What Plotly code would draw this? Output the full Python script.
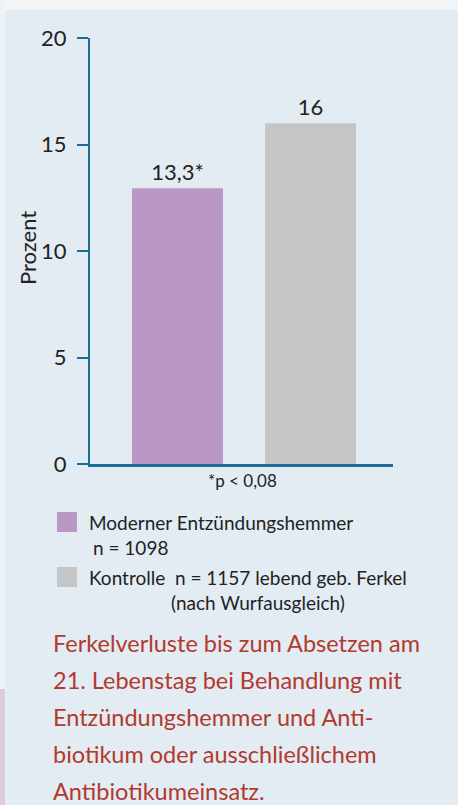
import plotly.graph_objects as go

# ---- data ----
categories = ["Moderner Entzündungshemmer", "Kontrolle"]
values = [12.95, 16.0]
value_labels = ["13,3*", "16"]
bar_colors = ["#bb97c5", "#c4c5c7"]
y_ticks = [0, 5, 10, 15, 20]
y_title = "Prozent"
p_note = "*p < 0,08"
legend_lines = [
    ("Moderner Entzündungshemmer", "n = 1098"),
    ("Kontrolle  n = 1157 lebend geb. Ferkel", "(nach Wurfausgleich)"),
]
caption_lines = [
    "Ferkelverluste bis zum Absetzen am",
    "21. Lebenstag bei Behandlung mit",
    "Entzündungshemmer und Anti-",
    "biotikum oder ausschließlichem",
    "Antibiotikumeinsatz.",
]

W, H = 458, 805
L, R, T, B = 90, 65, 38, 341
PW, PH = W - L - R, H - T - B
FONT = "Lato"
AXIS = "#1d6c98"
TXT = "#222222"
RED = "#b23a2d"
BG = "#e3ebf3"


def px(x):
    return (x - L) / PW


def py(y):
    return (H - B - y) / PH


fig = go.Figure()
fig.add_trace(go.Bar(
    x=[0, 1], y=values, width=0.684,
    marker=dict(color=bar_colors, line=dict(width=0)),
    text=value_labels, textposition="outside",
    textfont=dict(family=FONT, size=22, color=TXT),
    cliponaxis=False, hoverinfo="skip",
))

shapes = [
    # outer frame strips
    dict(type="rect", xref="paper", yref="paper", x0=px(0), x1=px(W), y0=py(10), y1=py(0),
         fillcolor="#f3f6f9", line=dict(width=0), layer="below"),
    dict(type="rect", xref="paper", yref="paper", x0=px(0), x1=px(5), y0=py(689), y1=py(0),
         fillcolor="#eef2f6", line=dict(width=0), layer="below"),
    dict(type="rect", xref="paper", yref="paper", x0=px(0), x1=px(5), y0=py(H), y1=py(689),
         fillcolor="#dccbe0", line=dict(width=0), layer="below"),
]

annotations = [
    dict(text=p_note, xref="paper", yref="paper", x=px(242), y=py(480),
         xanchor="center", yanchor="middle", showarrow=False,
         font=dict(family=FONT, size=17, color=TXT)),
    dict(text=y_title, xref="paper", yref="paper", x=px(27), y=py(248),
         xanchor="center", yanchor="middle", showarrow=False, textangle=-90,
         font=dict(family=FONT, size=22, color=TXT)),
]

leg_y = [522, 577]
for i, (l1, l2) in enumerate(legend_lines):
    yc = leg_y[i]
    shapes.append(dict(type="rect", xref="paper", yref="paper",
                       x0=px(57), x1=px(77), y0=py(yc + 10), y1=py(yc - 10),
                       fillcolor=bar_colors[i], line=dict(width=0)))
    annotations.append(dict(text=l1, xref="paper", yref="paper", x=px(87), y=py(yc),
                            xanchor="left", yanchor="middle", showarrow=False,
                            font=dict(family=FONT, size=19, color=TXT)))
    if i == 0:
        annotations.append(dict(text=l2, xref="paper", yref="paper", x=px(91), y=py(yc + 25),
                                xanchor="left", yanchor="middle", showarrow=False,
                                font=dict(family=FONT, size=19, color=TXT)))
    else:
        annotations.append(dict(text=l2, xref="paper", yref="paper", x=px(258), y=py(yc + 25),
                                xanchor="center", yanchor="middle", showarrow=False,
                                font=dict(family=FONT, size=19, color=TXT)))

for j, line in enumerate(caption_lines):
    annotations.append(dict(text=line, xref="paper", yref="paper", x=px(51), y=py(643 + 37 * j),
                            xanchor="left", yanchor="middle", showarrow=False,
                            font=dict(family=FONT, size=23.5, color=RED)))

fig.update_layout(
    width=W, height=H,
    margin=dict(l=L, r=R, t=T, b=B, pad=0),
    paper_bgcolor=BG, plot_bgcolor=BG,
    showlegend=False,
    shapes=shapes, annotations=annotations,
    font=dict(family=FONT, color=TXT),
    xaxis=dict(range=[-0.658, 1.62], showgrid=False, zeroline=False,
               showline=True, linecolor=AXIS, linewidth=2.5,
               showticklabels=False, ticks="", fixedrange=True),
    yaxis=dict(range=[0, 20], tickvals=y_ticks, showgrid=False, zeroline=False,
               showline=True, linecolor=AXIS, linewidth=2,
               ticks="outside", ticklen=11, tickcolor=AXIS, tickwidth=2,
               ticklabelstandoff=6,
               tickfont=dict(family=FONT, size=22, color=TXT), fixedrange=True),
)

fig.write_html("out.html", config={"displayModeBar": False, "staticPlot": True},
               post_script="document.body.style.margin='0';")
